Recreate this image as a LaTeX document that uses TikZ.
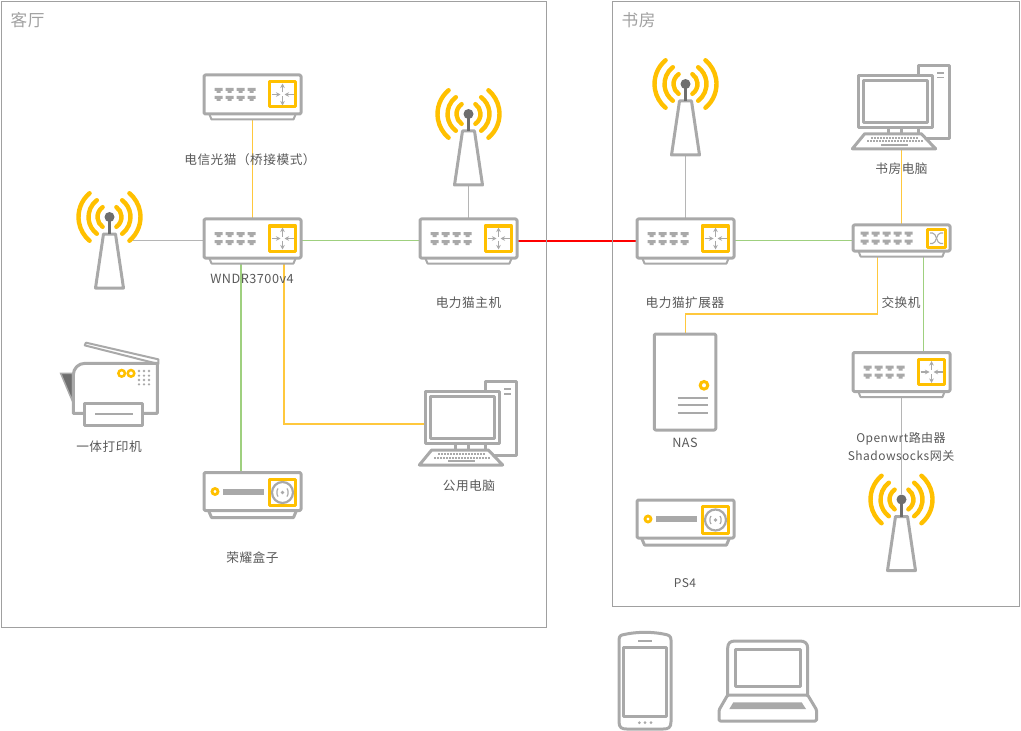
\documentclass[tikz,border=0pt]{standalone}
\usepackage{fontspec}
\setmainfont{Noto Sans CJK SC}[LetterSpace=4]
\usetikzlibrary{calc,arrows.meta}
\pgfdeclarelayer{bg}
\pgfsetlayers{bg,main}
\newlength\px \setlength\px{0.75pt}
\definecolor{devgray}{HTML}{A9A9A9}
\definecolor{devdark}{HTML}{6E6E6E}
\definecolor{amber}{HTML}{FFC000}
\definecolor{wireY}{HTML}{FFC83D}
\definecolor{wireG}{HTML}{9FD07F}
\definecolor{wireK}{HTML}{B5B5B5}
\definecolor{roomline}{HTML}{A0A0A0}
\definecolor{labelc}{HTML}{595959}
\tikzset{
  thickdev/.style={draw=devgray,line width=3\px,line join=round},
  thindev/.style={draw=devgray,line width=2\px,line join=round},
  boxdev/.style={thickdev,fill=white,rounded corners=1pt,inner sep=0pt,outer sep=0pt},
  ambbox/.style={draw=amber,line width=3\px,fill=white,line join=round},
  glyph/.style={draw=devgray,line width=1.1\px,-{Stealth[length=3.4pt,width=3.4pt]}},
  hookpt/.style={inner sep=0pt,outer sep=0pt,minimum size=0pt},
  room/.style={draw=roomline,line width=1\px,inner sep=0pt,outer sep=0pt},
  lab/.style={text=labelc,font=\fontsize{9.5pt}{13.5pt}\selectfont,align=center,inner sep=0pt},
  roomlab/.style={text=roomline,font=\fontsize{12.5pt}{14pt}\selectfont,inner sep=0pt},
  wirey/.style={draw=wireY,line width=1.4\px},
  wireg/.style={draw=wireG,line width=1.4\px},
  wirek/.style={draw=wireK,line width=1.2\px},
  wirer/.style={draw=red,line width=2\px},
  ports/.pic={
    \foreach \i in {#1}{ \foreach \j in {0,8}{
      \fill[devgray] (\i-4,-6.5+\j) -- (\i+4,-6.5+\j) -- (\i+4,-3.5+\j) -- (\i+2,-3.5+\j) -- (\i+2,-1.5+\j) -- (\i-2,-1.5+\j) -- (\i-2,-3.5+\j) -- (\i-4,-3.5+\j) -- cycle;
    }}
  },
  routerdev/.pic={
    \draw[thindev,fill=white] (-43,20) -- (-41,25) -- (41,25) -- (43,20);
    \node[boxdev,minimum width=97\px,minimum height=39\px] (-body) at (0,0) {};
    \pic at (0,0) {ports={-34,-23,-12,-1}};
    \draw[ambbox] (16.5,-12.5) rectangle (43,12.5);
    \draw[glyph] (30,-2) -- (30,-11);
    \draw[glyph] (30,2) -- (30,11);
    \draw[glyph] (19,0) -- (28,0);
    \draw[glyph] (41,0) -- (32,0);
  },
  switchdev/.pic={
    \draw[thindev,fill=white] (-43,13) -- (-41,18.5) -- (41,18.5) -- (43,13);
    \node[boxdev,minimum width=97\px,minimum height=26\px] (-body) at (0,0) {};
    \pic at (0,0) {ports={-37,-26,-15,-4,7}};
    \draw[ambbox] (26,-8.5) rectangle (44,9);
    \draw[devgray,line width=1.1\px] (28.5,-5) -- (31,-5) .. controls (35,-5) and (35,5.5) .. (39,5.5) -- (41.5,5.5);
    \draw[devgray,line width=1.1\px] (28.5,5.5) -- (31,5.5) .. controls (35,5.5) and (35,-5) .. (39,-5) -- (41.5,-5);
  },
  mediadev/.pic={
    \draw[thickdev,fill=white] (-44,19) -- (-41,26) -- (41,26) -- (44,19);
    \node[boxdev,minimum width=97\px,minimum height=38\px] (-body) at (0,0) {};
    \draw[draw=amber,line width=2.8\px] (-37.5,0) circle[radius=3\px];
    \fill[devgray] (-30,-3) rectangle (11,3);
    \draw[ambbox] (16.5,-12.5) rectangle (43,14);
    \draw[draw=devgray,line width=2.2\px] (30,1) circle[radius=10.5\px];
    \fill[devgray] (30,1) circle[radius=1.8\px];
    \draw[draw=devgray,line width=1.2\px] (25.5,-3) .. controls (24,-1) and (24,3) .. (25.5,5);
    \draw[draw=devgray,line width=1.2\px] (34.5,-3) .. controls (36,-1) and (36,3) .. (34.5,5);
  },
  antennadev/.pic={
    \node[hookpt,minimum width=46\px,minimum height=68\px] (-body) at (0,0) {};
    \foreach \r/\a in {31/50,21/53,12/55}{
      \draw[amber,line width=4.4\px,line cap=round] ({180-\a}:\r\px) arc[start angle={180-\a},end angle={180+\a},radius=\r\px];
      \draw[amber,line width=4.4\px,line cap=round] ({-\a}:\r\px) arc[start angle={-\a},end angle={\a},radius=\r\px];
    }
    \draw[thickdev,fill=white] (-6,17) -- (6,17) -- (14,71) -- (-14,71) -- cycle;
    \draw[devdark,line width=2.5\px] (0,0) -- (0,17);
    \node[circle,fill=devdark,inner sep=0pt,minimum size=10\px] (-head) at (0,0) {};
    \coordinate (-foot) at (0,71);
  },
  computerdev/.pic={
    \begin{scope}[x=.25pt,y=-.25pt]
    \draw[thickdev,fill=white] (225,50) -- (225,20) -- (320,20) -- (320,240) -- (245,240);
    \draw[devgray,line width=1.8\px] (283,42) -- (302,42) (283,56) -- (302,56);
    \draw[thickdev,fill=white] (45,50) rectangle (268,205);
    \draw[thickdev] (60,65) rectangle (252,190);
    \draw[thickdev] (135,205) -- (135,225) (175,205) -- (175,225) (225,205) -- (225,225);
    \draw[thickdev,fill=white] (65,225) -- (235,225) -- (278,270) -- (28,270) -- cycle;
    \draw[devgray,line width=2\px,dash pattern=on 2\px off 1\px] (85,238) -- (225,238);
    \draw[devgray,line width=2\px,dash pattern=on 2\px off 1\px] (72,248) -- (240,248);
    \draw[devgray,line width=2\px] (115,258) -- (195,258);
    \node[hookpt,minimum width=55.75pt,minimum height=38.75pt] (-mon) at (156.5,127.5) {};
    \coordinate (-kb) at (176,270);
    \end{scope}
  },
  nasdev/.pic={
    \node[boxdev,minimum width=61.5\px,minimum height=96\px] (-body) at (0,0) {};
    \draw[draw=amber,line width=3\px] (19,3.3) circle[radius=3.8\px];
    \draw[devgray,line width=1.8\px] (-7.5,16.3) -- (22.5,16.3) (-7.5,23.3) -- (22.5,23.3) (-7.5,31) -- (22.5,31);
  },
}
\begin{document}
\begin{tikzpicture}[x=0.75pt,y=-0.75pt]
\useasboundingbox (0,0) rectangle (1021,731);

% rooms
\node[room,minimum width=545\px,minimum height=626\px] (livingroom) at (274,314.5) {};
\node[room,minimum width=407\px,minimum height=605\px] (study) at (816,304) {};
\node[roomlab] (livinglab) at (27.5,20) {客厅};
\node[roomlab] (studylab) at (638.5,20) {书房};

% devices
\pic (modem) at (252.5,94.5) {routerdev};
\pic (wndr) at (252.5,238.5) {routerdev};
\pic (host) at (468.5,238.5) {routerdev};
\pic (ext) at (685.5,238.5) {routerdev};
\pic (sw) at (901.5,238) {switchdev};
\pic (owrt) at (901.5,372) {routerdev};
\pic (hbox) at (252.5,491.5) {mediadev};
\pic (ps) at (685.5,519) {mediadev};
\pic (ant1) at (109.5,217) {antennadev};
\pic (ant2) at (468.5,114) {antennadev};
\pic (ant3) at (685.5,84) {antennadev};
\pic (ant4) at (901.5,499.5) {antennadev};
\pic (pc1) at (410,375) {computerdev};
\pic (pc2) at (843,58.8) {computerdev};
\pic (nas) at (685,382) {nasdev};

% printer
\begin{scope}[shift={(50,335)},x=.25pt,y=-.25pt]
\draw[devgray,line width=1.5\px,fill=devdark] (32,115) -- (68,115) -- (68,200) -- cycle;
\draw[thindev,fill=white] (104,31) -- (108,23) -- (325,73) -- (325,87) -- cycle;
\draw[thickdev,fill=white] (100,235) -- (70,235) -- (70,120) .. controls (70,100) and (85,85) .. (105,85) -- (322,85) -- (322,235) -- (277,235);
\draw[thickdev,fill=white] (102,205) rectangle (277,270);
\draw[devgray,line width=2\px] (135,237) -- (250,237);
\draw[draw=amber,line width=2.5\px] (215,115) circle[radius=3.3\px];
\draw[draw=amber,line width=2.5\px] (243,115) circle[radius=3.3\px];
\foreach \dx in {267,282,297} \foreach \dy in {108,122,135,148} \fill[devgray] (\dx,\dy) circle[radius=1.3\px];
\end{scope}

% phone
\begin{scope}[shift={(605,625)},x=.25pt,y=-.25pt]
\draw[thickdev,fill=white] (42,45) .. controls (42,30) and (50,30) .. (60,28) .. controls (95,20) and (145,20) .. (180,28) .. controls (190,30) and (198,32) .. (198,45) -- (198,290) .. controls (198,308) and (190,312) .. (175,312) -- (65,312) .. controls (50,312) and (42,308) .. (42,290) -- cycle;
\draw[thickdev] (55,67) rectangle (185,275);
\draw[devgray,line width=2\px] (100,48) -- (142,48);
\foreach \dx in {103,120,138} \fill[devgray] (\dx,293) circle[radius=1.5\px];
\end{scope}

% laptop
\begin{scope}[shift={(605,625)},x=.25pt,y=-.25pt]
\draw[thickdev,fill=white] (368,210) -- (368,70) .. controls (368,55) and (375,48) .. (390,48) -- (585,48) .. controls (600,48) and (608,55) .. (608,70) -- (608,210);
\draw[thickdev] (390,72) rectangle (585,183);
\draw[thickdev,fill=white,rounded corners=1pt] (368,210) -- (608,210) -- (635,255) -- (635,288) -- (342,288) -- (342,255) -- cycle;
\fill[devgray] (385,232) -- (590,232) -- (603,252) -- (373,252) -- cycle;
\end{scope}

% connectors
\begin{pgfonlayer}{bg}
\coordinate (wg) at ([xshift=-8.625pt]wndr-body.south);
\coordinate (wy) at ([xshift=23.625pt]wndr-body.south);
\coordinate (sy) at ([xshift=-18pt]sw-body.south);
\coordinate (sg) at ([xshift=16.5pt]sw-body.south);
\coordinate (jog) at (685.5,314);
\coordinate (kbx) at ([xshift=-0.3pt]pc2-kb);
\draw[wirey] (modem-body.south) -- (wndr-body.north);
\draw[wirek] (ant1-body.east |- 0,240.5) -- (wndr-body.west |- 0,240.5);
\draw[wireg] (wndr-body.east |- 0,240.5) -- (host-body.west |- 0,240.5);
\draw[wirek] (ant2-foot) -- (host-body.north);
\draw[wirer] (host-body.east |- 0,241) -- (ext-body.west |- 0,241);
\draw[wirek] (ant3-foot) -- (ext-body.north);
\draw[wireg] (ext-body.east |- 0,240.5) -- (sw-body.west |- 0,240.5);
\draw[wirey] (kbx) -- (kbx |- sw-body.north);
\draw[wirey] (sy) |- (jog) -- (nas-body.north -| jog);
\draw[wireg] (sg) -- (sg |- owrt-body.north);
\draw[wirek] (owrt-body.south) -- (ant4-head);
\draw[wireg] (wg) -- (wg |- hbox-body.north);
\draw[wirey] (wy) |- ([yshift=-4.9pt]pc1-mon.west);
\end{pgfonlayer}

% labels
\node[lab] (l1) at (250,160) {电信光猫（桥接模式）};
\node[lab] (l2) at (252,279) {WNDR3700v4};
\node[lab] (l3) at (468.5,303) {电力猫主机};
\node[lab] (l4) at (685,303) {电力猫扩展器};
\node[lab] (l5) at (901,303) {交换机};
\node[lab] (l6) at (901.5,169) {书房电脑};
\node[lab] (l7) at (685,443) {NAS};
\node[lab,font=\fontsize{9pt}{13.5pt}\selectfont] (l8) at (901,447) {Openwrt路由器\\Shadowsocks网关};
\node[lab,font=\fontsize{9pt}{13.5pt}\selectfont] (l9) at (685,583.5) {PS4};
\node[lab] (l10) at (469,486) {公用电脑};
\node[lab] (l11) at (109,447) {一体打印机};
\node[lab] (l12) at (252.5,558) {荣耀盒子};
\end{tikzpicture}
\end{document}
